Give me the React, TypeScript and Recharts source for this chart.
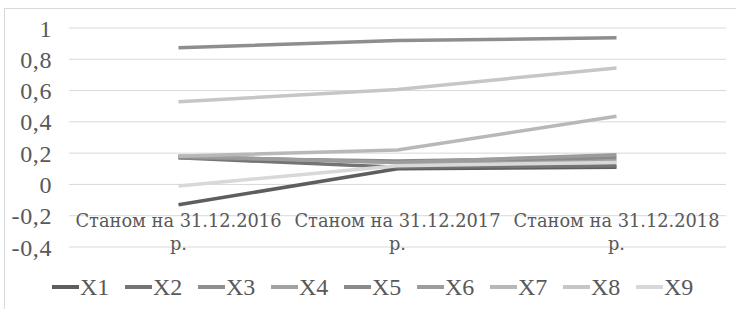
import React from "react";
import { LineChart, Line, XAxis, YAxis, CartesianGrid } from "recharts";

const categories = [
  "Станом на 31.12.2016 р.",
  "Станом на 31.12.2017 р.",
  "Станом на 31.12.2018 р.",
];

const seriesNames = ["X1", "X2", "X3", "X4", "X5", "X6", "X7", "X8", "X9"];

const X1 = [-0.13, 0.1, 0.11];
const X2 = [0.17, 0.11, 0.12];
const X3 = [0.873, 0.92, 0.937];
const X4 = [0.18, 0.14, 0.15];
const X5 = [0.17, 0.15, 0.17];
const X6 = [0.18, 0.14, 0.19];
const X7 = [0.18, 0.22, 0.436];
const X8 = [0.528, 0.607, 0.745];
const X9 = [-0.01, 0.12, 0.14];

const seriesValues = [X1, X2, X3, X4, X5, X6, X7, X8, X9];
const seriesColors = [
  "#5e5e5e",
  "#747474",
  "#8e8e8e",
  "#a2a2a2",
  "#8a8a8a",
  "#9c9c9c",
  "#b8b8b8",
  "#c6c6c6",
  "#d8d8d8",
];

const yTicks = [-0.4, -0.2, 0, 0.2, 0.4, 0.6, 0.8, 1];

const data = categories.map((c, i) => {
  const row: Record<string, any> = { category: c };
  seriesNames.forEach((n, j) => {
    row[n] = seriesValues[j][i];
  });
  return row;
});

const FONT = "Liberation Serif";
const CYR_FONT = "DejaVu Serif";
const TEXT = "#595959";

const fmt = (v: number) => String(v).replace(".", ",");

const CategoryTick = (props: any) => {
  const { x, y, payload } = props;
  const s: string = payload.value;
  const idx = s.lastIndexOf(" ");
  const l1 = s.slice(0, idx);
  const l2 = s.slice(idx + 1);
  return (
    <text
      x={x}
      y={y}
      textAnchor="middle"
      fill={TEXT}
      style={{ fontFamily: CYR_FONT, fontSize: 17.8 }}
    >
      <tspan x={x} dy={-28}>
        {l1}
      </tspan>
      <tspan x={x} dy={23}>
        {l2}
      </tspan>
    </text>
  );
};

export default function App() {
  return (
    <div
      style={{
        position: "absolute",
        left: 0,
        top: 0,
        width: 736,
        height: 309,
        background: "#fff",
        overflow: "hidden",
      }}
    >
      <div
        style={{
          position: "absolute",
          left: 4,
          top: 8,
          width: 800,
          height: 400,
          border: "1px solid #d9d9d9",
          boxSizing: "border-box",
        }}
      />
      <div style={{ position: "absolute", left: 0, top: 0 }}>
        <LineChart
          width={736}
          height={309}
          data={data}
          margin={{ top: 28, right: 10, left: 0, bottom: 0 }}
          style={{ fontFamily: FONT }}
        >
          <CartesianGrid vertical={false} stroke="#d9d9d9" strokeWidth={1} />
          <XAxis
            dataKey="category"
            height={62}
            axisLine={false}
            tickLine={false}
            interval={0}
            padding={{ left: 109.5, right: 109.5 }}
            tick={<CategoryTick />}
          />
          <YAxis
            width={69}
            domain={[-0.4, 1]}
            ticks={yTicks}
            interval={0}
            axisLine={false}
            tickLine={false}
            tickSize={0}
            tickMargin={17}
            tickFormatter={fmt}
            tick={{ fill: TEXT, fontFamily: FONT, fontSize: 24, letterSpacing: 0.6 }}
          />
          {seriesNames.map((n, j) => (
            <Line
              key={n}
              type="linear"
              dataKey={n}
              stroke={seriesColors[j]}
              strokeWidth={3.5}
              dot={false}
              activeDot={false}
              isAnimationActive={false}
            />
          ))}
        </LineChart>
      </div>
      <div
        style={{
          position: "absolute",
          left: 52,
          top: 275,
          display: "flex",
          fontFamily: FONT,
          fontSize: 24,
          color: TEXT,
        }}
      >
        {seriesNames.map((n, j) => (
          <div
            key={n}
            style={{ width: 73, display: "flex", alignItems: "center", height: 24 }}
          >
            <div
              style={{
                width: 27,
                height: 4,
                background: seriesColors[j],
                marginRight: 1,
              }}
            />
            <span>{n}</span>
          </div>
        ))}
      </div>
    </div>
  );
}
